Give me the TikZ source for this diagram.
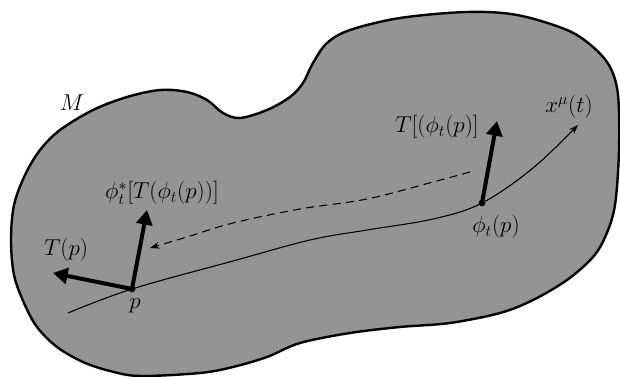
\documentclass[tikz,border=0pt]{standalone}
\usetikzlibrary{arrows.meta}
\begin{document}
\begin{tikzpicture}[x=0.75pt,y=-0.75pt,
  vec/.style={line width=3pt,-{Triangle[length=11pt,width=12pt]}},
  curveline/.style={line width=0.8pt},
  smallhead/.style={-{Stealth[length=7pt,width=5pt]}},
  dotmark/.style={circle,fill=black,inner sep=0pt,minimum size=5pt},
  lab/.style={font=\fontsize{17.5}{20}\selectfont, inner sep=0pt}]
\useasboundingbox (0,0) rectangle (620,377);
% manifold
\draw[line width=1.8pt, fill=black!42] plot[smooth cycle, tension=0.55] coordinates {
 (11,240) (14,205) (25,175) (40,150) (60,130) (93,110) (127,97) (160,90)
 (187,92) (207,100) (223,113) (240,118) (267,110) (290,97) (303,83) (313,63)
 (327,43) (350,30) (400,18) (467,12) (517,15) (567,30) (593,47) (610,67)
 (618,95) (619,150) (615,205) (606,235) (593,257) (567,280) (533,300) (500,313)
 (450,323) (400,327) (350,333) (300,343) (267,357) (233,367) (200,373) (140,376)
 (110,371) (83,362) (57,347) (37,327) (24,303) (14,275)};
% points
\coordinate (p) at (132,289);
\coordinate (q) at (482,203);
\coordinate (c0) at (68,313);
\coordinate (cend) at (578,125);
\coordinate (vp) at (147,210);
\coordinate (tp) at (53,273);
\coordinate (vq) at (497,121);
\coordinate (d0) at (470,172);
\coordinate (d1) at (150,248);
% curve x^mu(t)
\draw[curveline,smallhead] plot[smooth, tension=0.6] coordinates {
 (c0) (p) (233,261) (310,240) (367,230) (433,219) (q) (533,168) (cend)};
% dashed pull-back curve
\draw[curveline,dashed,dash pattern=on 6pt off 4pt,smallhead] plot[smooth, tension=0.6] coordinates {
 (d0) (433,182) (367,199) (300,209) (233,223) (187,237) (d1)};
% vectors
\draw[vec] (p) -- (vp);
\draw[vec] (p) -- (tp);
\draw[vec] (q) -- (vq);
\node[dotmark] (pd) at (p) {};
\node[dotmark] (qd) at (q) {};
% labels
\node[lab] (lM) at (72,103) {$M$};
\node[lab] (lpull) at (162,193) {$\phi_t^*[T(\phi_t(p))]$};
\node[lab] (lTp) at (66,250) {$T(p)$};
\node[lab] (lp) at (135,306) {$p$};
\node[lab] (lTq) at (437,127) {$T[(\phi_t(p)]$};
\node[lab] (lx) at (569,107) {$x^\mu(t)$};
\node[lab] (lq) at (496,227) {$\phi_t(p)$};
\end{tikzpicture}
\end{document}
